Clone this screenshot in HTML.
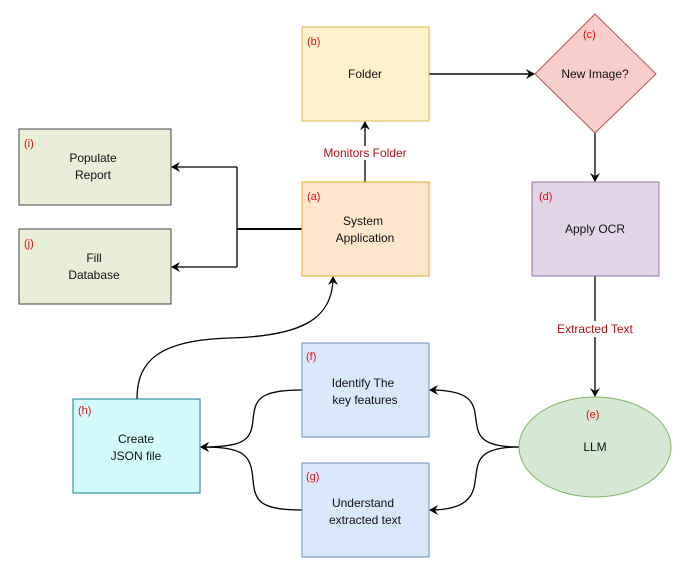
<!DOCTYPE html>
<html><head><meta charset="utf-8"><style>
body{margin:0;background:#fff}
svg{display:block;font-family:"Liberation Sans",Arial,sans-serif}
.t{font-size:12px;fill:#111;text-anchor:middle}
.l{font-size:11px;fill:#e01010}
.r{font-size:12px;fill:#b0101a;text-anchor:middle}
</style></head><body>
<svg width="683" height="570" viewBox="0 0 683 570">
<defs><marker id="a" markerWidth="10" markerHeight="10" refX="8" refY="5" orient="auto" markerUnits="userSpaceOnUse"><path d="M0,0 L9,5 L0,10 L3,5 Z" fill="#000"/></marker></defs>
<g fill="none" stroke="#000" stroke-width="1.3">
<path d="M302,229 H237" stroke-width="2"/>
<path d="M237,167 V267"/>
<path d="M237,167 H172" marker-end="url(#a)"/>
<path d="M237,267 H172" marker-end="url(#a)"/>
<path d="M365,182 V160"/><path d="M365,146 V122" marker-end="url(#a)"/>
<path d="M429,74 H534" stroke="#444" stroke-width="2" marker-end="url(#a)"/>
<path d="M595,133 V181" marker-end="url(#a)"/>
<path d="M595,276 V321"/><path d="M595,337 V396" marker-end="url(#a)"/>
<path d="M519,447 C480,447 478,435 476,420 C474,405 474,390 430,390" marker-end="url(#a)"/>
<path d="M519,447 C480,447 478,460 476,475 C474,490 474,510 430,510" marker-end="url(#a)"/>
<path d="M302,390 C258,390 255,400 253,420 C251,440 245,447 201,447" marker-end="url(#a)"/>
<path d="M302,510 C258,510 255,500 253,480 C251,455 245,447 201,447" marker-end="url(#a)"/>
<path d="M137,399 C137,360 160,340 230,338 C300,336 333,320 333,277" marker-end="url(#a)"/>
</g>
<rect x="302" y="27" width="127" height="94" fill="#fff2cc" stroke="#d6b656"/>
<polygon points="595,14 656,74 595,133 535,74" fill="#f8cecc" stroke="#b85450"/>
<rect x="302" y="182" width="127" height="94" fill="#ffe6cc" stroke="#e5a92a"/>
<rect x="19" y="129" width="152" height="76" fill="#e8eed8" stroke="#444"/>
<rect x="19" y="229" width="152" height="75" fill="#e8eed8" stroke="#444"/>
<rect x="532" y="182" width="127" height="94" fill="#e1d5e7" stroke="#9673a6"/>
<ellipse cx="595" cy="447" rx="76" ry="50" fill="#d5e8d4" stroke="#82b366"/>
<rect x="302" y="343" width="127" height="94" fill="#dae8fc" stroke="#6c8ebf"/>
<rect x="302" y="463" width="127" height="94" fill="#dae8fc" stroke="#6c8ebf"/>
<rect x="73" y="399" width="127" height="94" fill="#d4fbfb" stroke="#0e8088"/>
<text class="l" x="307" y="45">(b)</text><text class="t" x="365" y="78">Folder</text>
<text class="l" x="583" y="38">(c)</text><text class="t" x="595" y="78">New Image?</text>
<text class="l" x="307" y="200">(a)</text><text class="t" x="363" y="225">System</text><text class="t" x="365" y="242">Application</text>
<text class="l" x="24" y="147">(i)</text><text class="t" x="93" y="162">Populate</text><text class="t" x="93" y="179">Report</text>
<text class="l" x="24" y="247">(j)</text><text class="t" x="94" y="262">Fill</text><text class="t" x="94" y="279">Database</text>
<text class="l" x="539" y="200">(d)</text><text class="t" x="595" y="233">Apply OCR</text>
<text class="l" x="586" y="418">(e)</text><text class="t" x="595" y="451">LLM</text>
<text class="l" x="306" y="360">(f)</text><text class="t" x="363" y="387">Identify The</text><text class="t" x="365" y="404">key features</text>
<text class="l" x="306" y="480">(g)</text><text class="t" x="363" y="507">Understand</text><text class="t" x="365" y="524">extracted text</text>
<text class="l" x="78" y="414">(h)</text><text class="t" x="136" y="443">Create</text><text class="t" x="136" y="460">JSON file</text>
<text class="r" x="365" y="157">Monitors Folder</text>
<text class="r" x="595" y="333">Extracted Text</text>
</svg>
</body></html>
